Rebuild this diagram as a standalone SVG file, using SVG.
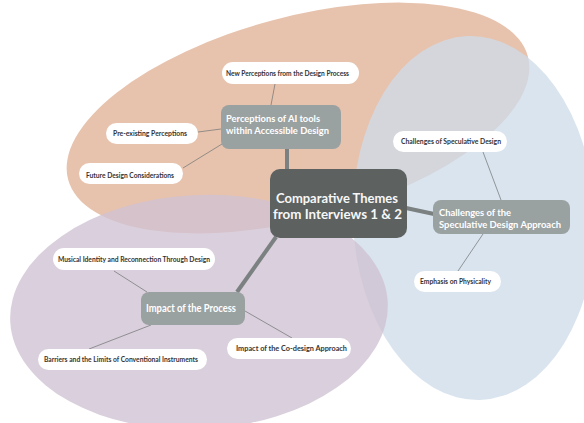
<svg xmlns="http://www.w3.org/2000/svg" width="584" height="423" viewBox="0 0 584 423">
  <style>
    .hub { fill: #5d6261; }
    .topic { fill: #9aa1a1; }
    .leaf { fill: #ffffff; }
    .hub-text { font-family: Lato, "Open Sans", "Liberation Sans", sans-serif; font-weight: 700; font-size: 13.6px; fill: #f7f7f7; }
    .topic-text { font-family: Lato, "Open Sans", "Liberation Sans", sans-serif; font-weight: 700; font-size: 9.5px; fill: #ffffff; }
    .topic-text.single { font-size: 11px; }
    .leaf-text { font-family: Lato, "Open Sans", "Liberation Sans", sans-serif; font-weight: 700; font-size: 7.5px; fill: #333333; }
    .trunk { stroke: #7b8080; stroke-width: 4; fill: none; }
    .twig { stroke: #6e7272; stroke-width: 0.7; fill: none; }
  </style>

  <!-- theme regions -->
  <g id="regions">
    <ellipse id="region-perceptions" cx="298" cy="118" rx="238" ry="101" transform="rotate(-15 298 118)" fill="#e7c3ae"/>
    <ellipse id="region-challenges" cx="474" cy="218" rx="121" ry="182" transform="rotate(-2 474 218)" fill="#cfdce9" fill-opacity="0.77"/>
    <ellipse id="region-impact" cx="199" cy="312" rx="189" ry="117" transform="rotate(-3 199 312)" fill="#d0c1d2" fill-opacity="0.78"/>
  </g>

  <!-- connectors -->
  <g id="connectors">
    <line class="trunk" x1="287" y1="149" x2="287" y2="170"/>
    <line class="trunk" x1="406" y1="208" x2="434" y2="214"/>
    <line class="trunk" x1="276" y1="237" x2="237" y2="292"/>
    <line class="twig" x1="275" y1="84" x2="271" y2="105"/>
    <line class="twig" x1="198" y1="132" x2="221" y2="129"/>
    <line class="twig" x1="183" y1="168" x2="222" y2="144"/>
    <line class="twig" x1="483" y1="152" x2="501" y2="200"/>
    <line class="twig" x1="483" y1="234" x2="458" y2="271"/>
    <line class="twig" x1="114" y1="271" x2="147" y2="292"/>
    <line class="twig" x1="89" y1="349" x2="151" y2="325"/>
    <line class="twig" x1="245" y1="311" x2="292" y2="338"/>
  </g>

  <!-- central node -->
  <g id="node-central">
    <rect class="hub" x="270" y="169" width="137" height="69" rx="10"/>
    <text class="hub-text" x="276" y="202.5" textLength="122" lengthAdjust="spacingAndGlyphs">Comparative Themes</text>
    <text class="hub-text" x="273" y="219" textLength="129" lengthAdjust="spacingAndGlyphs">from Interviews 1 &amp; 2</text>
  </g>

  <!-- perceptions branch -->
  <g id="node-perceptions">
    <rect class="topic" x="221" y="105" width="120" height="44" rx="8"/>
    <text class="topic-text" x="226" y="122" textLength="94" lengthAdjust="spacingAndGlyphs">Perceptions of AI tools</text>
    <text class="topic-text" x="226" y="133.5" textLength="103" lengthAdjust="spacingAndGlyphs">within Accessible Design</text>
  </g>
  <g id="node-new-perceptions">
    <rect class="leaf" x="222" y="62" width="137" height="22" rx="11"/>
    <text class="leaf-text" x="226" y="76" textLength="123" lengthAdjust="spacingAndGlyphs">New Perceptions from the Design Process</text>
  </g>
  <g id="node-pre-existing">
    <rect class="leaf" x="106" y="123" width="92" height="21" rx="10.5"/>
    <text class="leaf-text" x="113" y="135.7" textLength="74" lengthAdjust="spacingAndGlyphs">Pre-existing Perceptions</text>
  </g>
  <g id="node-future">
    <rect class="leaf" x="79" y="163" width="104" height="21" rx="10.5"/>
    <text class="leaf-text" x="86" y="177.5" textLength="88" lengthAdjust="spacingAndGlyphs">Future Design Considerations</text>
  </g>

  <!-- challenges branch -->
  <g id="node-challenges">
    <rect class="topic" x="433" y="200" width="137" height="34" rx="8"/>
    <text class="topic-text" x="439" y="216" textLength="72" lengthAdjust="spacingAndGlyphs">Challenges of the</text>
    <text class="topic-text" x="439" y="227.5" textLength="122" lengthAdjust="spacingAndGlyphs">Speculative Design Approach</text>
  </g>
  <g id="node-speculative">
    <rect class="leaf" x="393" y="131" width="114" height="21" rx="10.5"/>
    <text class="leaf-text" x="401" y="144" textLength="100" lengthAdjust="spacingAndGlyphs">Challenges of Speculative Design</text>
  </g>
  <g id="node-physicality">
    <rect class="leaf" x="414" y="271" width="87" height="21" rx="10.5"/>
    <text class="leaf-text" x="420" y="284" textLength="71" lengthAdjust="spacingAndGlyphs">Emphasis on Physicality</text>
  </g>

  <!-- impact branch -->
  <g id="node-impact">
    <rect class="topic" x="141" y="292" width="104" height="33" rx="8"/>
    <text class="topic-text single" x="146" y="312.3" textLength="90" lengthAdjust="spacingAndGlyphs">Impact of the Process</text>
  </g>
  <g id="node-musical">
    <rect class="leaf" x="53" y="248" width="162" height="22" rx="11"/>
    <text class="leaf-text" x="58" y="262.3" textLength="152" lengthAdjust="spacingAndGlyphs">Musical Identity and Reconnection Through Design</text>
  </g>
  <g id="node-barriers">
    <rect class="leaf" x="38" y="349" width="169" height="21" rx="10.5"/>
    <text class="leaf-text" x="44" y="361.5" textLength="154" lengthAdjust="spacingAndGlyphs">Barriers and the Limits of Conventional Instruments</text>
  </g>
  <g id="node-codesign">
    <rect class="leaf" x="227" y="338" width="124" height="21" rx="10.5"/>
    <text class="leaf-text" x="236" y="351" textLength="111" lengthAdjust="spacingAndGlyphs">Impact of the Co-design Approach</text>
  </g>
</svg>
